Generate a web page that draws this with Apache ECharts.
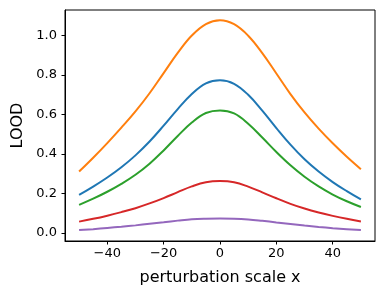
<!DOCTYPE html>
<html>
<head>
<meta charset="utf-8">
<script src="https://cdn.jsdelivr.net/npm/echarts@6/dist/echarts.min.js"></script>
<style>html,body{margin:0;padding:0;background:#fff}#c{width:385px;height:298px}</style>
</head>
<body>
<div id="c"></div>
<script>
const xs = [-50,-45,-40,-35,-30,-25,-20,-15,-10,-5,0,5,10,15,20,25,30,35,40,45,50];
const blue   = [0.193,0.235,0.281,0.333,0.393,0.463,0.543,0.627,0.703,0.757,0.773,0.755,0.699,0.619,0.531,0.447,0.373,0.311,0.258,0.212,0.170];
const orange = [0.311,0.381,0.455,0.533,0.615,0.707,0.809,0.911,0.999,1.057,1.076,1.056,0.998,0.910,0.807,0.703,0.610,0.528,0.454,0.386,0.323];
const green  = [0.143,0.174,0.209,0.249,0.295,0.351,0.418,0.491,0.559,0.607,0.620,0.605,0.553,0.483,0.410,0.343,0.285,0.236,0.195,0.161,0.132];
const red    = [0.058,0.072,0.088,0.106,0.126,0.150,0.177,0.207,0.236,0.257,0.263,0.257,0.235,0.206,0.176,0.148,0.124,0.104,0.087,0.072,0.059];
const purple = [0.015,0.020,0.026,0.032,0.039,0.047,0.055,0.063,0.070,0.073,0.074,0.073,0.069,0.062,0.054,0.046,0.038,0.031,0.025,0.020,0.015];
const xTicks = [-40,-20,0,20,40];
const yTicks = [0,0.2,0.4,0.6,0.8,1.0];
const seriesList = [
  {name:'s0', values: blue,   color:'#1f77b4'},
  {name:'s1', values: orange, color:'#ff7f0e'},
  {name:'s2', values: green,  color:'#2ca02c'},
  {name:'s3', values: red,    color:'#d62728'},
  {name:'s4', values: purple, color:'#9467bd'}
];
const font = 'DejaVu Sans';
const chart = echarts.init(document.getElementById('c'), null, {renderer:'canvas'});
chart.setOption({
  animation: false,
  grid: {left: 65, right: 10, top: 10, bottom: 57, show: true, borderColor: '#000', borderWidth: 1, backgroundColor: 'transparent'},
  xAxis: {
    type: 'value', min: -55, max: 55,
    name: 'perturbation scale x', nameLocation: 'middle', nameGap: 29,
    nameTextStyle: {fontFamily: font, fontSize: 16, color: '#000'},
    axisLine: {show: true, onZero: false, lineStyle: {color: '#000', width: 1}},
    axisTick: {show: true, length: 3.5, inside: false, customValues: xTicks, lineStyle: {color: '#000'}},
    axisLabel: {customValues: xTicks, margin: 6, fontFamily: font, fontSize: 13, color: '#000',
      formatter: v => (v < 0 ? '\u2212' + Math.abs(v) : String(v))},
    splitLine: {show: false}
  },
  yAxis: {
    type: 'value', min: -0.04, max: 1.128,
    name: 'LOOD', nameLocation: 'middle', nameGap: 37,
    nameTextStyle: {fontFamily: font, fontSize: 16, color: '#000'},
    axisLine: {show: true, onZero: false, lineStyle: {color: '#000', width: 1}},
    axisTick: {show: true, length: 3.5, inside: false, customValues: yTicks, lineStyle: {color: '#000'}},
    axisLabel: {customValues: yTicks, margin: 8, fontFamily: font, fontSize: 13, color: '#000',
      formatter: v => v.toFixed(1)},
    splitLine: {show: false}
  },
  series: seriesList.map(s => ({
    name: s.name, type: 'line', smooth: 0.4, symbol: 'none',
    data: xs.map((x, i) => [x, s.values[i]]),
    lineStyle: {color: s.color, width: 2},
    itemStyle: {color: s.color}
  }))
});
</script>
</body>
</html>
